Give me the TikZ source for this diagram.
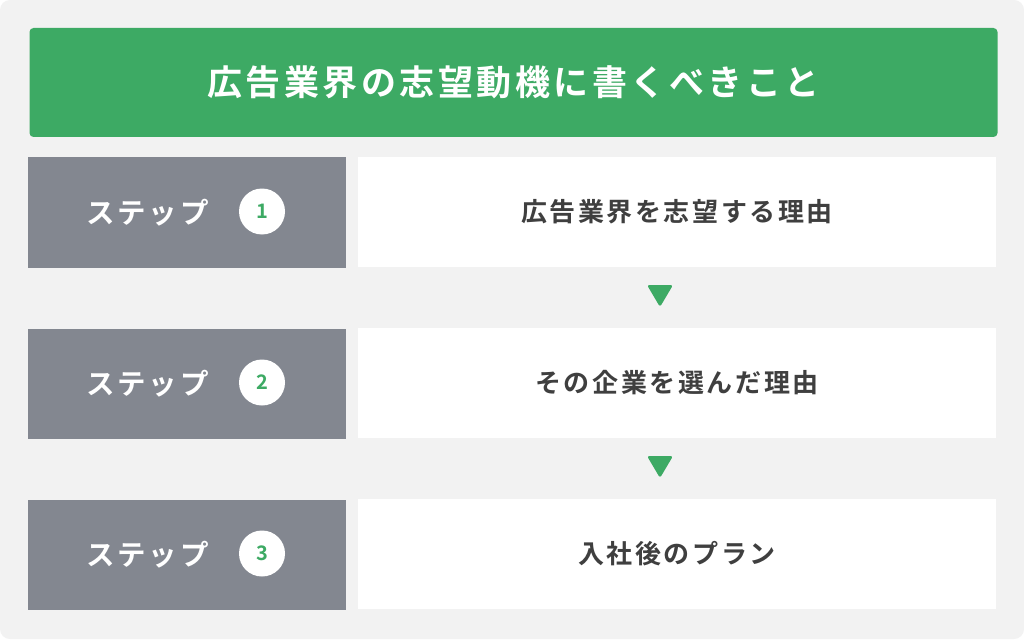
\documentclass[tikz,border=0pt]{standalone}
\usepackage{fontspec}
\newfontfamily\jp{Noto Sans CJK JP}[BoldFont={Noto Sans CJK JP Bold},LetterSpace=10]
\newfontfamily\jpnum{Noto Sans CJK JP}[BoldFont={Noto Sans CJK JP Bold}]
\definecolor{bg}{HTML}{F2F2F2}
\definecolor{hdgreen}{HTML}{3DAA64}
\definecolor{stepgray}{HTML}{838790}
\definecolor{txtdark}{HTML}{3F3F3F}
\begin{document}
\begin{tikzpicture}[x=1pt,y=-1pt,
  header/.style={fill=hdgreen,rounded corners=4pt,minimum width=968pt,minimum height=109pt,inner sep=0pt,
    text=white,font=\jp\bfseries\fontsize{35}{40}\selectfont},
  stepbox/.style={fill=stepgray,minimum width=318pt,minimum height=110pt,inner sep=0pt},
  itembox/.style={fill=white,minimum width=638pt,minimum height=110pt,inner sep=0pt,
    text=txtdark,font=\jp\bfseries\fontsize{26}{32}\selectfont},
  steplabel/.style={text=white,inner sep=0pt,font=\jp\bfseries\fontsize{28.5}{32}\selectfont},
  numcircle/.style={circle,fill=white,minimum size=46pt,inner sep=0pt,
    text=hdgreen,font=\jpnum\bfseries\fontsize{20}{24}\selectfont},
  downarrow/.style={fill=hdgreen,rounded corners=2.5pt}
]
\useasboundingbox (0,0) rectangle (1024,639);
\fill[white] (0,0) rectangle (1024,639);
\fill[bg,rounded corners=10pt] (0,0) rectangle (1024,639);

\node[header] (title) at (513.5,82.5) {広告業界の志望動機に書くべきこと};

\foreach \i/\y/\txt in {1/212.5/広告業界を志望する理由, 2/383.5/その企業を選んだ理由, 3/554.5/入社後のプラン}{
  \node[stepbox] (s\i) at (187,\y) {};
  \node[itembox] (w\i) at (677,\y-0.5) {\txt};
  \node[steplabel] (l\i) at (147.5,\y) {ステップ};
  \node[numcircle] (c\i) at (262,\y-1) {\i};
}

\coordinate (a1) at (660,285);
\coordinate (a2) at (660,456);
\foreach \a in {a1,a2}{
  \fill[downarrow] ([xshift=-13pt]\a) -- ([xshift=13pt]\a) -- ([yshift=-22pt]\a) -- cycle;
}
\end{tikzpicture}
\end{document}
